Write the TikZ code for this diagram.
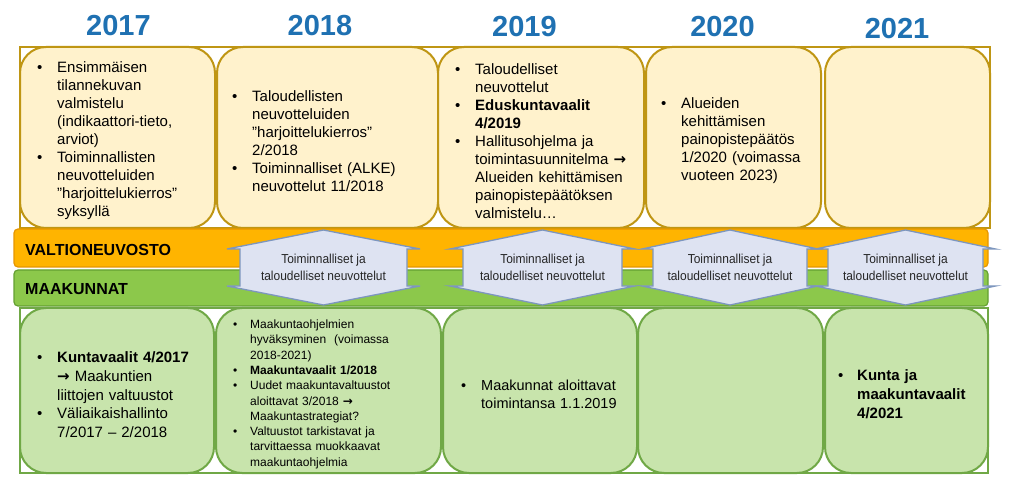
\documentclass[tikz,border=0pt]{standalone}
\usepackage{fontspec}
\setmainfont{Liberation Sans}
\newfontfamily\narrowfont[FakeStretch=0.92]{Liberation Sans}
\newfontfamily\arrowfont{DejaVu Sans}
\newcommand\ar{{\arrowfont\bfseries →}}
\definecolor{yearblue}{RGB}{31,113,178}
\definecolor{topfill}{RGB}{255,242,204}
\definecolor{topdraw}{RGB}{191,150,20}
\definecolor{botfill}{RGB}{200,228,172}
\definecolor{botdraw}{RGB}{112,168,70}
\definecolor{orfill}{RGB}{255,180,0}
\definecolor{ordraw}{RGB}{230,150,0}
\definecolor{grfill}{RGB}{140,200,75}
\definecolor{grdraw}{RGB}{100,160,50}
\definecolor{hexfill}{RGB}{222,227,242}
\definecolor{hexdraw}{RGB}{125,150,190}
\newcommand\bul[2][20pt]{\par\noindent\hangindent=#1\relax\hangafter=1\relax\makebox[#1][l]{•}\begingroup\let\\\newline #2\endgroup\par}
\begin{document}
\begin{tikzpicture}[x=1pt,y=-1pt,
  topbox/.style={draw=topdraw, fill=topfill, line width=2pt, rounded corners=26pt, inner sep=0},
  botbox/.style={draw=botdraw, fill=botfill, line width=2pt, rounded corners=26pt, inner sep=0},
  year/.style={font=\fontsize{29}{30}\selectfont\bfseries, text=yearblue, inner sep=0},
  txt/.style={anchor=west, inner sep=0, align=left},
  band/.style={rounded corners=4pt, line width=1.2pt, inner sep=0},
  bandtxt/.style={anchor=west, inner sep=0, font=\fontsize{16}{18}\selectfont\bfseries},
  hexa/.style={draw=hexdraw, fill=hexfill, line width=1.3pt, line join=miter},
  hextxt/.style={font=\narrowfont\fontsize{13}{17}\selectfont, align=center, text=black!85, inner sep=0}
]
\useasboundingbox (0,0) rectangle (1023,486);
\fill[white] (0,0) rectangle (1023,486);

% years
\node[year] (y17) at (118.5,25.5) {2017};
\node[year] (y18) at (320,25.5) {2018};
\node[year] (y19) at (524.5,27) {2019};
\node[year] (y20) at (722.5,27) {2020};
\node[year] (y21) at (897,28.5) {2021};

% top row
\draw[topdraw, line width=1.5pt] (20,47) rectangle (990,228);
\node[topbox, minimum width=195pt, minimum height=181pt] (t17) at (117.5,137.5) {};
\node[topbox, minimum width=221pt, minimum height=181pt] (t18) at (327.5,137.5) {};
\node[topbox, minimum width=206pt, minimum height=181pt] (t19) at (541,137.5) {};
\node[topbox, minimum width=175pt, minimum height=181pt] (t20) at (733.5,137.5) {};
\node[topbox, minimum width=165pt, minimum height=181pt] (t21) at (907.5,137.5) {};

\node[txt, text width=170pt, font=\fontsize{15}{18}\selectfont] (t17x) at (37,137.5)
 {\bul{Ensimmäisen\\tilannekuvan\\valmistelu\\(indikaattori-tieto,\\arviot)}\bul{Toiminnallisten\\neuvotteluiden\\”harjoittelukierros”\\syksyllä}};
\node[txt, text width=195pt, font=\fontsize{15}{18}\selectfont] (t18x) at (232,137.5)
 {\bul{Taloudellisten\\neuvotteluiden\\”harjoittelukierros”\\2/2018}\bul{Toiminnalliset (ALKE)\\neuvottelut 11/2018}};
\node[txt, text width=182pt, font=\fontsize{15}{18}\selectfont] (t19x) at (455,137.5)
 {\bul{Taloudelliset\\neuvottelut}\bul{\bfseries Eduskuntavaalit\\4/2019}\bul{Hallitusohjelma ja\\toimintasuunnitelma \ar\\Alueiden kehittämisen\\painopistepäätöksen\\valmistelu…}};
\node[txt, text width=155pt, font=\fontsize{15}{18}\selectfont] (t20x) at (661,137.5)
 {\bul{Alueiden\\kehittämisen\\painopistepäätös\\1/2020 (voimassa\\vuoteen 2023)}};

% bands
\node[band, fill=orfill, draw=ordraw, minimum width=974pt, minimum height=38pt] (vnband) at (501,248) {};
\node[band, fill=grfill, draw=grdraw, minimum width=974pt, minimum height=36pt] (mkband) at (501,288) {};
\node[bandtxt] (vn) at (25,250) {VALTIONEUVOSTO};
\node[bandtxt] (mk) at (25,289) {MAAKUNNAT};

% bottom row
\draw[botdraw, line width=1.5pt] (20,308) rectangle (988,473);
\node[botbox, minimum width=194pt, minimum height=165pt] (b17) at (117,390.5) {};
\node[botbox, minimum width=225pt, minimum height=165pt] (b18) at (328.5,390.5) {};
\node[botbox, minimum width=194pt, minimum height=165pt] (b19) at (540,390.5) {};
\node[botbox, minimum width=185pt, minimum height=165pt] (b20) at (730.5,390.5) {};
\node[botbox, minimum width=163pt, minimum height=165pt] (b21) at (906.5,390.5) {};

\node[txt, text width=172pt, font=\fontsize{15}{18.7}\selectfont] (b17x) at (37,391)
 {\bul{{\bfseries Kuntavaalit 4/2017}\\\ar\ Maakuntien\\liittojen valtuustot}\bul{Väliaikaishallinto\\7/2017 – 2/2018}};
\node[txt, text width=200pt, font=\fontsize{12}{15.3}\selectfont] (b18x) at (233,391)
 {\bul[17pt]{Maakuntaohjelmien\\hyväksyminen\ \ (voimassa\\2018-2021)}\bul[17pt]{\bfseries Maakuntavaalit 1/2018}\bul[17pt]{Uudet maakuntavaltuustot\\aloittavat 3/2018 \ar\\Maakuntastrategiat?}\bul[17pt]{Valtuustot tarkistavat ja\\tarvittaessa muokkaavat\\maakuntaohjelmia}};
\node[txt, text width=170pt, font=\fontsize{14.5}{18}\selectfont] (b19x) at (461,391)
 {\bul{Maakunnat aloittavat\\toimintansa 1.1.2019}};
\node[txt, text width=145pt, font=\fontsize{15}{19}\selectfont] (b21x) at (838,390)
 {\bul[19pt]{\bfseries Kunta ja\\maakuntavaalit\\4/2021}};

% hexagons
\foreach \i/\cx/\bh/\wh in {1/323.5/83.5/96.5, 2/542.5/79.5/92.5, 3/730/77/88, 4/905.5/77.5/90}{
  \draw[hexa] (\cx,230) -- (\cx-\wh,249) -- (\cx-\bh,249) -- (\cx-\bh,286) -- (\cx-\wh,286) -- (\cx,305)
     -- (\cx+\wh,286) -- (\cx+\bh,286) -- (\cx+\bh,249) -- (\cx+\wh,249) -- cycle;
  \node[hextxt] (hex\i) at (\cx,267) {Toiminnalliset ja\\taloudelliset neuvottelut};
}
\end{tikzpicture}
\end{document}
